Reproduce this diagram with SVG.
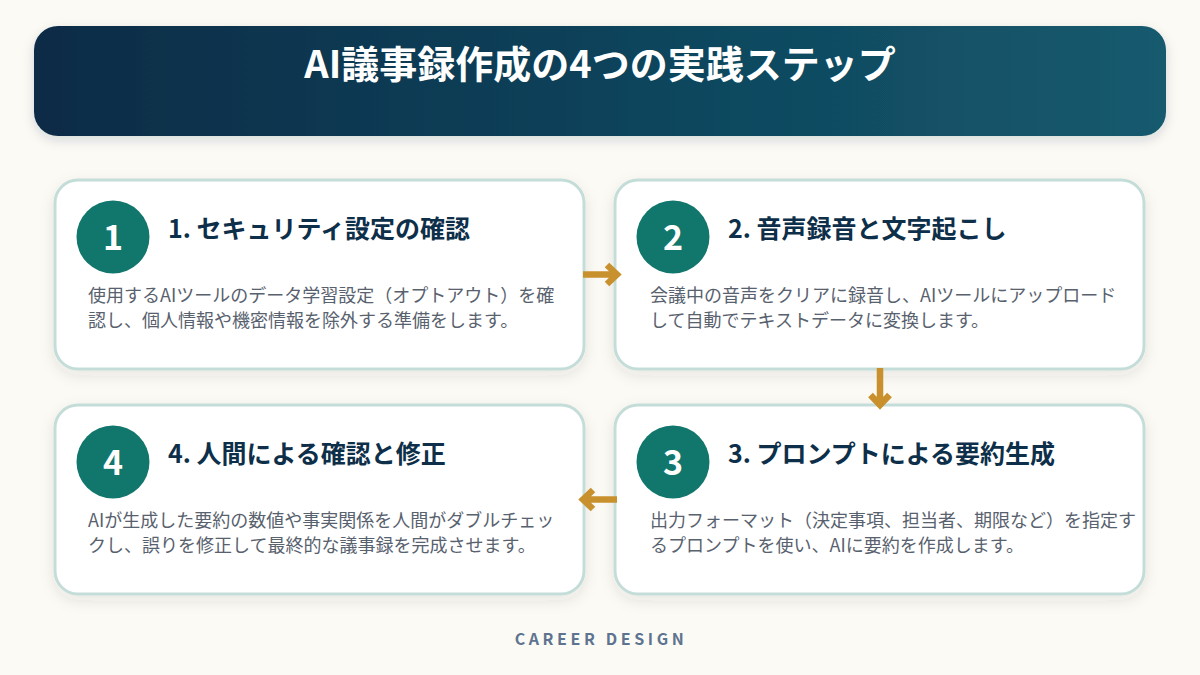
<svg xmlns="http://www.w3.org/2000/svg" width="1200" height="675" viewBox="0 0 1200 675">
<defs>
<linearGradient id="hdr" x1="0" y1="0" x2="1" y2="0">
<stop offset="0" stop-color="#0A2B46"/>
<stop offset="1" stop-color="#145A6E"/>
</linearGradient>
<filter id="sh" x="-10%" y="-10%" width="120%" height="130%">
<feDropShadow dx="0" dy="5" stdDeviation="7" flood-color="#2B3A3A" flood-opacity="0.10"/>
</filter>
<filter id="hsh" x="-5%" y="-20%" width="110%" height="150%">
<feDropShadow dx="0" dy="4" stdDeviation="6" flood-color="#0A2B46" flood-opacity="0.15"/>
</filter>
<style>
text{font-family:"Noto Sans CJK JP","Noto Sans",sans-serif;}
.card{fill:#FFFFFF;stroke:#C4DDD9;stroke-width:3;}
.num{fill:#11766B;}
.numt{fill:#FFFFFF;font-size:34px;font-weight:700;text-anchor:middle;}
.ttl{fill:#0E2F49;font-size:25px;font-weight:700;}
.desc{fill:#58616E;font-size:18px;}
.arr{fill:none;stroke:#C8912E;stroke-width:6.5;stroke-linejoin:miter;}
</style>
</defs>
<rect x="0" y="0" width="1200" height="675" fill="#FBFAF5"/>
<g id="header">
<rect x="34" y="26" width="1132" height="110" rx="24" fill="url(#hdr)" filter="url(#hsh)"/>
<text x="600" y="78" text-anchor="middle" fill="#FFFFFF" font-size="38" font-weight="700">AI議事録作成の4つの実践ステップ</text>
</g>
<g id="step1">
<rect class="card" x="55" y="180" width="529" height="189" rx="23" filter="url(#sh)"/>
<circle class="num" cx="113" cy="237" r="36.5"/>
<text class="numt" x="113" y="249.5">1</text>
<text class="ttl" x="168" y="238">1. セキュリティ設定の確認</text>
<text class="desc" x="88" y="302">使用するAIツールのデータ学習設定（オプトアウト）を確</text>
<text class="desc" x="88" y="327">認し、個人情報や機密情報を除外する準備をします。</text>
</g>
<g id="step2">
<rect class="card" x="615" y="180" width="529" height="189" rx="23" filter="url(#sh)"/>
<circle class="num" cx="673" cy="237" r="36.5"/>
<text class="numt" x="673" y="249.5">2</text>
<text class="ttl" x="728" y="238">2. 音声録音と文字起こし</text>
<text class="desc" x="650" y="302">会議中の音声をクリアに録音し、AIツールにアップロード</text>
<text class="desc" x="650" y="327">して自動でテキストデータに変換します。</text>
</g>
<g id="step3">
<rect class="card" x="615" y="405" width="529" height="189" rx="23" filter="url(#sh)"/>
<circle class="num" cx="673" cy="462" r="36.5"/>
<text class="numt" x="673" y="474.5">3</text>
<text class="ttl" x="728" y="463">3. プロンプトによる要約生成</text>
<text class="desc" x="650" y="527">出力フォーマット（決定事項、担当者、期限など）を指定す</text>
<text class="desc" x="650" y="552">るプロンプトを使い、AIに要約を作成します。</text>
</g>
<g id="step4">
<rect class="card" x="55" y="405" width="529" height="189" rx="23" filter="url(#sh)"/>
<circle class="num" cx="113" cy="462" r="36.5"/>
<text class="numt" x="113" y="474.5">4</text>
<text class="ttl" x="168" y="463">4. 人間による確認と修正</text>
<text class="desc" x="88" y="527">AIが生成した要約の数値や事実関係を人間がダブルチェッ</text>
<text class="desc" x="88" y="552">クし、誤りを修正して最終的な議事録を完成させます。</text>
</g>
<g id="connectors">
<path class="arr" d="M583 274.5 H617 M607 265 L617 274.5 L607 284"/>
<path class="arr" d="M880 368 V405 M870.5 395 L880 405 L889.5 395"/>
<path class="arr" d="M617 499.5 H583 M593 490 L583 499.5 L593 509"/>
</g>
<text x="601" y="645" text-anchor="middle" fill="#5E7390" font-size="16" font-weight="700" letter-spacing="3.6">CAREER DESIGN</text>
</svg>
